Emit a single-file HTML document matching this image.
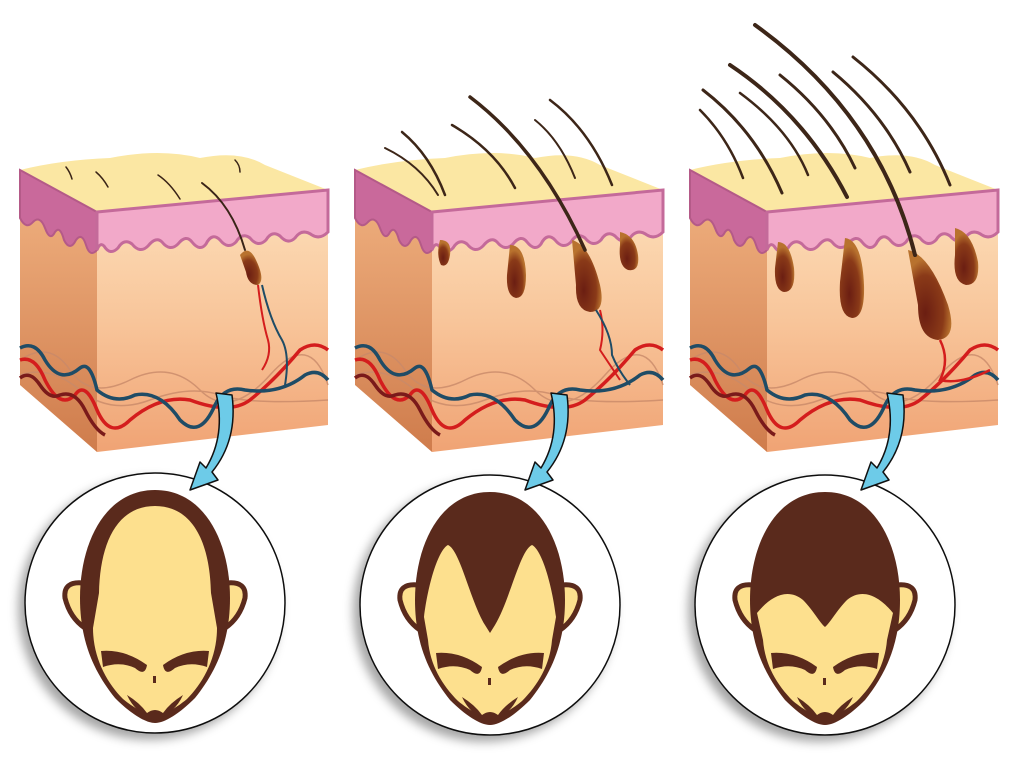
<!DOCTYPE html>
<html><head><meta charset="utf-8"><style>html,body{margin:0;padding:0;background:#fff}svg{display:block}</style></head>
<body>
<svg width="1024" height="768" viewBox="0 0 1024 768" xmlns="http://www.w3.org/2000/svg">
<defs>
<linearGradient id="gf" x1="0" y1="0" x2="0" y2="1"><stop offset="0" stop-color="#fde0bb"/><stop offset="0.5" stop-color="#f8c59a"/><stop offset="1" stop-color="#f0a374"/></linearGradient>
<linearGradient id="gl" x1="0" y1="0" x2="0" y2="1"><stop offset="0" stop-color="#f2b483"/><stop offset="1" stop-color="#cf7c4c"/></linearGradient>
<radialGradient id="fol" cx="0.4" cy="0.7" r="0.6"><stop offset="0" stop-color="#6b1e12"/><stop offset="0.7" stop-color="#8a3a18"/><stop offset="1" stop-color="#b8722e"/></radialGradient>
<filter id="sh" x="-20%" y="-20%" width="140%" height="140%"><feDropShadow dx="-6" dy="6" stdDeviation="5" flood-color="#000" flood-opacity="0.35"/></filter>
<g id="cube">
  <path d="M20,170 L97,212 L97,452 L20,385 Z" fill="url(#gl)"/>
  <path d="M97,212 L328,190 L328,425 L97,452 Z" fill="url(#gf)"/>
  <path d="M20,170 Q60,160 110,158 Q160,148 200,158 Q240,150 265,165 L328,190 L97,212 Z" fill="#fbe7a3"/>
  <path d="M20,170 L97,212 L97,250 Q90,258 86,245 Q82,232 76,240 Q70,252 64,240 Q60,225 55,232 Q50,242 45,228 Q40,215 33,222 Q26,230 20,218 Z" fill="#c9699b" stroke="#b45a88" stroke-width="2"/>
  <path d="M97,212 L328,190 L328,232 Q320,240 312,235 Q302,228 295,238 Q288,245 280,236 Q272,230 266,240 Q258,248 250,238 Q242,232 236,242 Q228,250 220,240 Q212,232 206,244 Q200,252 192,242 Q186,234 178,244 Q170,252 162,242 Q156,236 148,246 Q140,254 132,244 Q124,238 118,248 Q110,256 104,246 Q100,242 97,250 Z" fill="#f2a9c9" stroke="#c46a9a" stroke-width="3"/>
  <g fill="none" stroke-width="1.5" stroke="#c98a6a" opacity="0.8">
    <path d="M20,360 Q50,340 70,370 T130,380 T200,390 T270,375 T328,385"/>
    <path d="M20,375 Q50,365 80,390 T150,400 T220,395 T328,400"/>
  </g>
  <path d="M20,360 Q35,355 45,380 Q60,410 75,395 Q85,380 97,410 Q110,440 130,420 Q160,395 190,400 Q230,415 250,400 Q275,380 300,350 Q315,340 328,350" fill="none" stroke="#d41d1d" stroke-width="3.5"/>
  <path d="M20,378 Q30,370 40,385 Q50,400 60,395 Q75,390 85,410 Q95,430 105,435" fill="none" stroke="#7a1a1a" stroke-width="3.5"/>
  <path d="M20,348 Q35,340 45,360 Q60,385 80,368 Q90,360 97,390 Q115,405 135,395 Q160,390 180,420 Q200,440 215,405 Q225,385 245,390 Q280,395 305,375 Q318,368 328,380" fill="none" stroke="#1f4c66" stroke-width="3.5"/>
</g>
<g id="face" fill="#5a2a1c">
  <path d="M-54,48 Q-30,46 -8,62 Q-10,74 -20,65 Q-35,58 -52,64 Z"/>
  <path d="M54,48 Q30,46 8,62 Q10,74 20,65 Q35,58 52,64 Z"/>
  <rect x="-2" y="73" width="3" height="7"/>
  <path d="M-28,92 Q-15,100 -8,110 Q0,104 8,110 Q15,100 28,92 Q20,110 0,117 Q-20,110 -28,92 Z"/>
</g>
<g id="ears">
  <path d="M-72,-20 Q-92,-22 -90,-5 Q-85,15 -70,25 Z" fill="#fde08e" stroke="#5a2a1c" stroke-width="5"/>
  <path d="M72,-20 Q92,-22 90,-5 Q85,15 70,25 Z" fill="#fde08e" stroke="#5a2a1c" stroke-width="5"/>
  <path d="M0,-113 C50,-113 75,-60 75,-5 C75,40 60,70 40,95 C25,110 10,120 0,120 C-10,120 -25,110 -40,95 C-60,70 -75,40 -75,-5 C-75,-60 -50,-113 0,-113 Z" fill="#5a2a1c"/>
</g>
</defs>

<use href="#cube"/>
<use href="#cube" x="335"/>
<use href="#cube" x="670"/>

<!-- cube 1 -->
<g fill="none" stroke="#3a2417" stroke-width="1.5" stroke-linecap="round">
  <path d="M66,167 Q70,172 72,179"/><path d="M96,172 Q103,178 108,187"/><path d="M158,175 Q170,183 180,199"/><path d="M235,160 Q240,165 240,172"/>
  <path d="M202,183 Q232,205 245,250" stroke-width="2"/>
</g>
<path d="M240,255 Q248,245 255,258 Q266,280 258,285 Q248,285 246,272 Z" fill="url(#fol)"/>
<path d="M258,285 Q262,320 268,340 Q272,355 262,370" fill="none" stroke="#d41d1d" stroke-width="2"/>
<path d="M262,285 Q270,320 282,340 Q290,355 285,385" fill="none" stroke="#1f4c66" stroke-width="2"/>

<!-- cube 2 -->
<g fill="url(#fol)">
  <path d="M440,240 Q452,240 450,255 Q448,268 441,265 Q436,255 440,240Z"/>
  <path d="M510,245 Q525,245 526,275 Q526,298 516,298 Q506,296 507,275 Z"/>
  <path d="M572,240 Q590,245 600,285 Q606,312 590,312 Q575,310 576,285 Z"/>
  <path d="M620,232 Q635,235 638,255 Q640,272 628,270 Q618,266 620,245 Z"/>
</g>
<g fill="none" stroke="#3d2618" stroke-linecap="round">
  <path d="M385,148 Q420,165 438,195" stroke-width="2"/>
  <path d="M402,132 Q430,155 445,195" stroke-width="2.5"/>
  <path d="M452,125 Q495,150 515,188" stroke-width="2.5"/>
  <path d="M470,97 Q540,150 585,250" stroke-width="3.5"/>
  <path d="M535,120 Q560,140 575,178" stroke-width="2"/>
  <path d="M550,100 Q590,130 612,185" stroke-width="2.5"/>
</g>
<path d="M600,310 Q605,330 600,350 Q610,365 620,380" fill="none" stroke="#d41d1d" stroke-width="2"/>
<path d="M596,310 Q612,335 612,355 Q618,370 630,385" fill="none" stroke="#1f4c66" stroke-width="2"/>

<!-- cube 3 -->
<g fill="url(#fol)">
  <path d="M778,242 Q790,242 794,268 Q796,292 784,292 Q774,290 775,268 Z"/>
  <path d="M845,238 Q862,240 864,285 Q865,318 852,318 Q838,316 840,282 Z"/>
  <path d="M908,250 Q930,255 948,305 Q958,338 938,340 Q918,338 918,305 Z"/>
  <path d="M955,228 Q972,232 978,262 Q980,285 966,285 Q952,282 955,255 Z"/>
</g>
<g fill="none" stroke="#3d2618" stroke-linecap="round">
  <path d="M700,110 Q728,138 743,178" stroke-width="2.5"/>
  <path d="M703,90 Q755,130 782,193" stroke-width="3"/>
  <path d="M730,65 Q805,115 847,197" stroke-width="4"/>
  <path d="M740,93 Q790,130 808,175" stroke-width="2.5"/>
  <path d="M780,75 Q830,115 855,168" stroke-width="3"/>
  <path d="M755,25 Q880,115 915,255" stroke-width="4"/>
  <path d="M833,72 Q885,115 910,172" stroke-width="3"/>
  <path d="M853,57 Q920,110 950,185" stroke-width="3"/>
</g>
<path d="M940,340 Q950,360 940,380 Q960,385 990,370" fill="none" stroke="#d41d1d" stroke-width="2.5"/>

<!-- circles -->
<g fill="#fff" stroke="#111" stroke-width="1.5" filter="url(#sh)">
  <circle cx="155" cy="603" r="130"/>
  <circle cx="490" cy="605" r="130"/>
  <circle cx="825" cy="605" r="130"/>
</g>

<!-- heads -->
<g transform="translate(155,603)">
  <use href="#ears"/>
  <path d="M0,-97 C38,-97 55,-60 56,-10 L62,25 C62,55 48,80 32,96 C20,106 8,112 0,112 C-8,112 -20,106 -32,96 C-48,80 -62,55 -62,25 L-56,-10 C-55,-60 -38,-97 0,-97 Z" fill="#fde08e"/>
  <use href="#face"/>
</g>
<g transform="translate(490,605)">
  <use href="#ears"/>
  <path d="M-66,12 C-62,-20 -52,-55 -42,-60 C-30,-55 -20,-5 -5,20 L0,28 L5,20 C20,-5 30,-55 42,-60 C52,-55 62,-20 66,12 L62,35 C60,60 48,80 32,96 C20,106 8,112 0,112 C-8,112 -20,106 -32,96 C-48,80 -60,60 -62,35 Z" fill="#fde08e"/>
  <use href="#face"/>
</g>
<g transform="translate(825,605)">
  <use href="#ears"/>
  <path d="M-68,8 C-55,-8 -38,-18 -22,-5 C-12,5 -5,18 0,22 C5,18 12,5 22,-5 C38,-18 55,-8 68,8 L62,35 C60,60 48,80 32,96 C20,106 8,112 0,112 C-8,112 -20,106 -32,96 C-48,80 -60,60 -62,35 Z" fill="#fde08e"/>
  <use href="#face"/>
</g>

<!-- arrows -->
<g fill="#6dcbe8" stroke="#111" stroke-width="1.5" stroke-linejoin="round">
  <path d="M216,393 L232,395 Q238,440 212,472 L218,480 L190,490 L200,462 L206,468 Q226,435 216,393 Z"/>
  <path d="M551,393 L567,395 Q573,440 547,472 L553,480 L525,490 L535,462 L541,468 Q561,435 551,393 Z"/>
  <path d="M887,393 L903,395 Q909,440 883,472 L889,480 L861,490 L871,462 L877,468 Q897,435 887,393 Z"/>
</g>
</svg>
</body></html>
